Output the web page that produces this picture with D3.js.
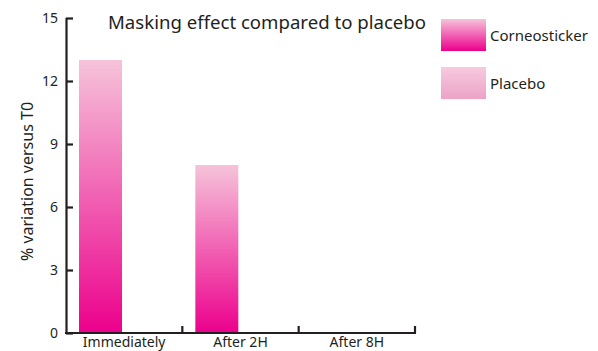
<!DOCTYPE html>
<html>
<head>
<meta charset="utf-8">
<script src="https://cdn.jsdelivr.net/npm/d3@7"></script>
<style>
  html, body { margin: 0; padding: 0; background: #fff; }
  svg { display: block; font-family: "Noto Sans", "Open Sans", sans-serif; }
</style>
</head>
<body>
<svg id="chart" width="598" height="351"></svg>
<script>
// Data
const categories = ["Immediately", "After 2H", "After 8H"];
const seriesNames = ["Corneosticker", "Placebo"];
const corneosticker = [13, 8, 0];
const placebo = [0, 0, 0];
const yTicks = [0, 3, 6, 9, 12, 15];

const ink = "#231f20";
const svg = d3.select("#chart");
const defs = svg.append("defs");

// Vertical gradients for each series
const gradients = [
  { id: "g-corneo", top: "#f6c3da", bottom: "#ec008c" },
  { id: "g-placebo", top: "#f7cadf", bottom: "#eca3c6" }
];
gradients.forEach(g => {
  const lg = defs.append("linearGradient")
    .attr("id", g.id).attr("x1", 0).attr("y1", 0).attr("x2", 0).attr("y2", 1);
  lg.append("stop").attr("offset", "0%").attr("stop-color", g.top);
  lg.append("stop").attr("offset", "100%").attr("stop-color", g.bottom);
});

const plot = { left: 66, right: 415, top: 18, bottom: 333 };

const x = d3.scaleBand().domain(categories).range([plot.left, plot.right]).padding(0);
const xSeries = d3.scaleBand().domain(seriesNames)
  .range([13, 13 + 86]).padding(0);
const y = d3.scaleLinear().domain([0, 15]).range([plot.bottom, plot.top]);

const rows = categories.map((c, i) => ({
  category: c,
  values: [
    { series: "Corneosticker", value: corneosticker[i], fill: "url(#g-corneo)" },
    { series: "Placebo", value: placebo[i], fill: "url(#g-placebo)" }
  ]
}));

// Bars
const groups = svg.append("g").selectAll("g").data(rows).join("g")
  .attr("transform", d => `translate(${x(d.category)},0)`);
groups.selectAll("rect").data(d => d.values.filter(v => v.value > 0)).join("rect")
  .attr("x", d => xSeries(d.series))
  .attr("width", xSeries.bandwidth())
  .attr("y", d => y(d.value))
  .attr("height", d => y(0) - y(d.value))
  .attr("fill", d => d.fill);

// Y axis (ticks pointing inward)
const yAxis = svg.append("g")
  .attr("transform", `translate(${plot.left},0)`)
  .call(d3.axisRight(y).tickValues(yTicks).tickSize(7).tickFormat(d3.format("d")));
yAxis.select(".domain").attr("stroke", ink).attr("stroke-width", 2.2)
  .attr("d", `M0.5,${plot.top}V${plot.bottom}`);
yAxis.selectAll(".tick line").attr("stroke", ink).attr("stroke-width", 2.2);
yAxis.selectAll(".tick text")
  .attr("x", -8).attr("text-anchor", "end")
  .attr("fill", ink).attr("font-size", 14).attr("font-family", "Noto Sans, sans-serif");

// X axis (category boundaries with upward ticks)
const xAxisG = svg.append("g").attr("transform", `translate(0,${plot.bottom})`);
xAxisG.append("line")
  .attr("x1", plot.left - 1).attr("x2", plot.right + 1)
  .attr("y1", 0).attr("y2", 0)
  .attr("stroke", ink).attr("stroke-width", 2.2);
xAxisG.selectAll("line.sep").data(categories).join("line")
  .attr("class", "sep")
  .attr("x1", d => x(d) + x.bandwidth()).attr("x2", d => x(d) + x.bandwidth())
  .attr("y1", 0).attr("y2", -7)
  .attr("stroke", ink).attr("stroke-width", 2.2);
xAxisG.selectAll("text").data(categories).join("text")
  .attr("x", d => x(d) + x.bandwidth() / 2)
  .attr("y", 14)
  .attr("text-anchor", "middle")
  .attr("fill", ink).attr("font-size", 14)
  .text(d => d);

// Y axis title
svg.append("text")
  .attr("transform", `translate(33,${(plot.top + plot.bottom) / 2 + 6}) rotate(-90)`)
  .attr("text-anchor", "middle")
  .attr("fill", ink).attr("font-size", 16)
  .text("% variation versus T0");

// Title
svg.append("text")
  .attr("x", 108).attr("y", 29)
  .attr("fill", ink).attr("font-size", 18.6)
  .text("Masking effect compared to placebo");

// Legend
const legend = svg.append("g").attr("transform", "translate(441,19)");
seriesNames.forEach((s, i) => {
  const g = legend.append("g").attr("transform", `translate(0,${i * 48})`);
  g.append("rect").attr("width", 45).attr("height", 32)
    .attr("fill", `url(#${gradients[i].id})`);
  g.append("text").attr("x", 49).attr("y", 22)
    .attr("fill", ink).attr("font-size", 15)
    .text(s);
});
</script>
</body>
</html>
